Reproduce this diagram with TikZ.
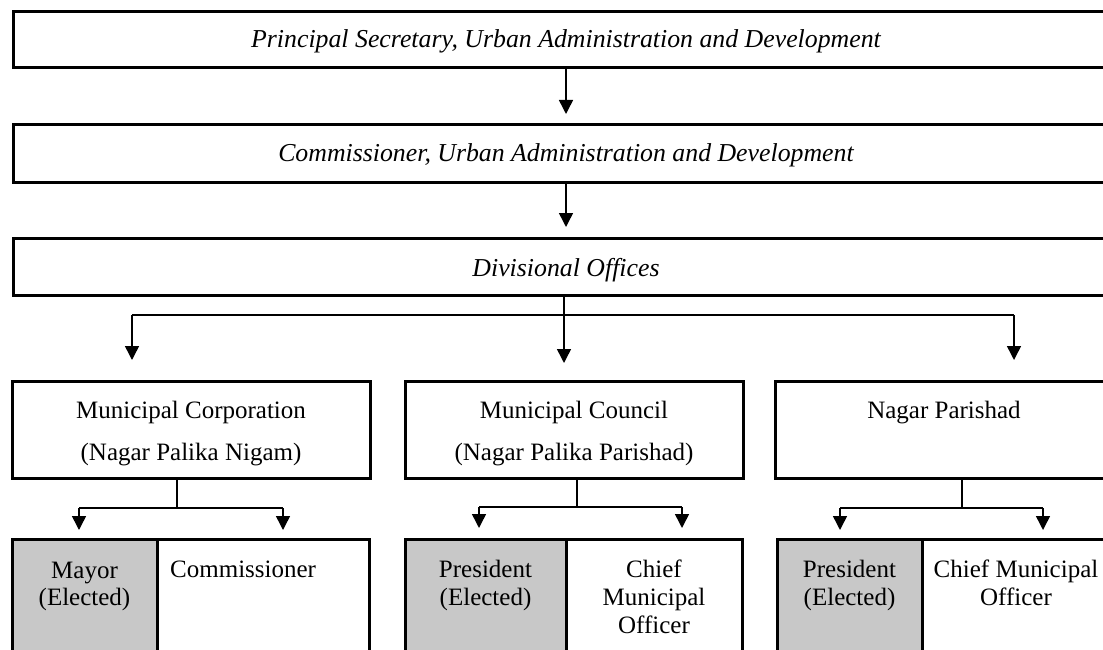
\documentclass[tikz,border=0pt]{standalone}
\usepackage{fontspec}
\setmainfont{Liberation Serif}
\usetikzlibrary{arrows.meta}
\definecolor{cellgrey}{HTML}{C8C8C8}
\begin{document}
\begin{tikzpicture}[x=1pt,y=-1pt,
  cell/.style={draw, line width=3pt, inner sep=0pt, outer sep=0pt},
  greycell/.style={cell, fill=cellgrey},
  txt/.style={font=\fontsize{25}{29}\selectfont, inner sep=0pt, anchor=base},
  itxt/.style={txt, font=\fontsize{25.8}{29}\selectfont\itshape},
  arr/.style={-{Triangle[width=14pt,length=14pt]}, line width=1.5pt},
  ln/.style={line width=1.3pt}
]
\useasboundingbox (0,0) rectangle (1103,650);
\clip (0,0) rectangle (1103,650);

% top boxes
\node[cell, minimum width=1106pt, minimum height=56pt] (b1) at (566,40) {};
\node[cell, minimum width=1106pt, minimum height=57pt] (b2) at (566,153.5) {};
\node[cell, minimum width=1106pt, minimum height=57pt] (b3) at (566,266.5) {};
\node[itxt] (t1) at (566,48) {Principal Secretary, Urban Administration and Development};
\node[itxt] (t2) at (566,161) {Commissioner, Urban Administration and Development};
\node[itxt] (t3) at (566,276) {Divisional Offices};

\draw[arr, shorten >=11pt] (b1.south) -- (b2.north);
\draw[arr, shorten >=11pt] (b2.south) -- (b3.north);

% middle boxes
\node[cell, minimum width=358pt, minimum height=97pt] (mA) at (191,429.5) {};
\node[cell, minimum width=338pt, minimum height=97pt] (mB) at (574,429.5) {};
\node[cell, minimum width=338pt, minimum height=97pt] (mC) at (944,429.5) {};
\node[txt] (mA1) at (191,418) {Municipal Corporation};
\node[txt] (mA2) at (191,460) {(Nagar Palika Nigam)};
\node[txt] (mB1) at (574,418) {Municipal Council};
\node[txt] (mB2) at (574,460) {(Nagar Palika Parishad)};
\node[txt] (mC1) at (944,418) {Nagar Parishad};

\coordinate (jl) at (132,315);
\coordinate (jm) at (564,315);
\coordinate (jr) at (1014,315);
\draw[ln] (jl) -- (jr);
\draw[arr, shorten >=21pt] (jl) -- (jl |- mA.north);
\draw[arr, shorten >=18pt] (jm |- b3.south) -- (jm |- mB.north);
\draw[arr, shorten >=21pt] (jr) -- (jr |- mC.north);

% bottom cells
\node[greycell, minimum width=145pt, minimum height=161pt] (lA) at (84.5,619.5) {};
\node[cell, minimum width=212pt, minimum height=161pt] (rA) at (263,619.5) {};
\node[greycell, minimum width=161pt, minimum height=161pt] (lB) at (485.5,619.5) {};
\node[cell, minimum width=176pt, minimum height=161pt] (rB) at (654,619.5) {};
\node[greycell, minimum width=145pt, minimum height=161pt] (lC) at (849.5,619.5) {};
\node[cell, minimum width=188pt, minimum height=161pt] (rC) at (1016,619.5) {};

\node[txt] (lA1) at (84.5,578) {Mayor};
\node[txt] (lA2) at (84.5,605) {(Elected)};
\node[txt, anchor=base west] (rA1) at (170,577) {Commissioner};
\node[txt] (lB1) at (485.5,577) {President};
\node[txt] (lB2) at (485.5,605) {(Elected)};
\node[txt] (rB1) at (654,577) {Chief};
\node[txt] (rB2) at (654,605) {Municipal};
\node[txt] (rB3) at (654,633) {Officer};
\node[txt] (lC1) at (849.5,577) {President};
\node[txt] (lC2) at (849.5,605) {(Elected)};
\node[txt] (rC1) at (1016,577) {Chief Municipal};
\node[txt] (rC2) at (1016,605) {Officer};

% sub connectors
\coordinate (sA) at (177,508);
\coordinate (sAl) at (79,508);
\coordinate (sAr) at (283,508);
\draw[ln] (sA |- mA.south) -- (sA);
\draw[ln] (sAl) -- (sAr);
\draw[arr, shorten >=9pt] (sAl) -- (sAl |- lA.north);
\draw[arr, shorten >=9pt] (sAr) -- (sAr |- rA.north);

\coordinate (sB) at (577,507);
\coordinate (sBl) at (479,507);
\coordinate (sBr) at (682,507);
\draw[ln] (sB |- mB.south) -- (sB);
\draw[ln] (sBl) -- (sBr);
\draw[arr, shorten >=11pt] (sBl) -- (sBl |- lB.north);
\draw[arr, shorten >=11pt] (sBr) -- (sBr |- rB.north);

\coordinate (sC) at (962,508);
\coordinate (sCl) at (840,508);
\coordinate (sCr) at (1043,508);
\draw[ln] (sC |- mC.south) -- (sC);
\draw[ln] (sCl) -- (sCr);
\draw[arr, shorten >=9pt] (sCl) -- (sCl |- lC.north);
\draw[arr, shorten >=9pt] (sCr) -- (sCr |- rC.north);
\end{tikzpicture}
\end{document}
